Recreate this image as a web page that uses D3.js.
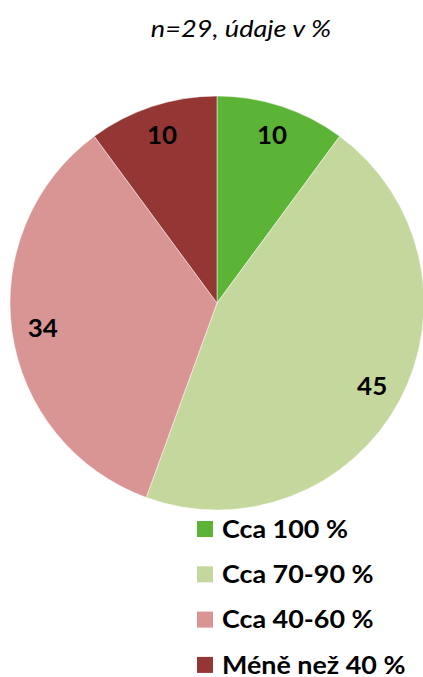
<!DOCTYPE html>
<html>
<head>
<meta charset="utf-8">
<script src="https://cdn.jsdelivr.net/npm/d3@7"></script>
<style>
  body { margin: 0; background: #fff; }
  text { font-family: Lato, "Open Sans", sans-serif; }
</style>
</head>
<body>
<div id="chart"></div>
<script>
// donnees du graphe
var categories = ["Cca 100 %", "Cca 70-90 %", "Cca 40-60 %", "Méně než 40 %"];
var valeurs = [10, 45, 34, 10];
var couleurs = ["#5bb435", "#c4d79c", "#d99594", "#943634"];
var titre = "n=29, údaje v %";

var width = 423, height = 677;
var cx = 217, cy = 303, rayon = 207;

var svg = d3.select("#chart")
  .append("svg")
    .attr("width", width)
    .attr("height", height);

// titre (police un peu etiree en largeur, comme l'original)
svg.append("text")
  .attr("transform", "translate(241,37) scale(1.13,1)")
  .attr("text-anchor", "middle")
  .style("font-style", "italic")
  .style("font-size", "24px")
  .text(titre);

var data = categories.map(function(c, i) { return {name: c, value: valeurs[i]}; });

var color = d3.scaleOrdinal()
  .domain(categories)
  .range(couleurs);

var pie = d3.pie()
  .sort(null)
  .value(function(d) { return d.value; });

var arc = d3.arc()
  .innerRadius(0)
  .outerRadius(rayon);

var arcLabel = d3.arc()
  .innerRadius(176)
  .outerRadius(176);

var g = svg.append("g")
  .attr("transform", "translate(" + cx + "," + cy + ")");

g.selectAll("path")
  .data(pie(data))
  .enter()
  .append("path")
    .attr("d", arc)
    .style("fill", function(d) { return color(d.data.name); })
    .style("stroke", "#fff")
    .style("stroke-width", 0.5);

g.selectAll("text.lbl")
  .data(pie(data))
  .enter()
  .append("text")
    .attr("class", "lbl")
    .attr("transform", function(d) {
      var c = arcLabel.centroid(d);
      return "translate(" + c + ") scale(1.08,1)";
    })
    .attr("text-anchor", "middle")
    .attr("dy", "0.36em")
    .style("font-weight", "bold")
    .style("font-size", "24px")
    .text(function(d) { return d.data.value; });

// legende
var legend = svg.selectAll("g.legend")
  .data(data)
  .enter()
  .append("g")
    .attr("class", "legend")
    .attr("transform", function(d, i) { return "translate(197," + (521 + i * 45.3) + ")"; });

legend.append("rect")
  .attr("width", 16)
  .attr("height", 16)
  .style("fill", function(d) { return color(d.name); });

legend.append("text")
  .attr("transform", "translate(25,8) scale(1.12,1)")
  .attr("dy", "0.36em")
  .style("font-weight", "bold")
  .style("font-size", "24px")
  .text(function(d) { return d.name; });
</script>
</body>
</html>
